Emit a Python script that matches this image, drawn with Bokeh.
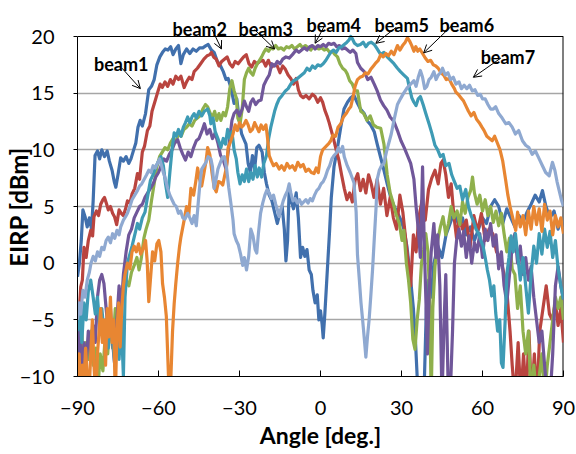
from bokeh.plotting import figure
from bokeh.models import Range1d, FixedTicker, Label, Arrow, OpenHead, Span
from bokeh.embed import file_html
from bokeh.resources import INLINE

# (angle [deg], EIRP [dBm]) pairs
beam1 = [(-90,-1.2),(-89.3,0),(-88.6,2),(-88,4.7),(-87.2,4.1),(-86.4,3.2),(-85.6,4),(-84.8,3),(-84.2,5.5),(-83.5,9.5),(-82.6,9.9),(-81.8,9.2),(-81,10),(-80,9.4),(-79,9.9),(-78.2,9),(-77.2,8.2),(-76.4,7.2),(-75.8,6.7),(-75,7.8),(-74,9.3),(-73,9),(-72,9.4),(-71,8.8),(-70.2,9.2),(-69.2,10),(-68.4,10.6),(-67.6,12),(-66.8,12.6),(-66,12.1),(-64.8,13.2),(-63.6,15.3),(-62.6,15.6),(-61.6,16.2),(-60.6,17.5),(-59.5,18.2),(-58.5,18.6),(-57.5,18.9),(-56.5,18.8),(-55.5,19.1),(-54.6,18.4),(-53.6,18.9),(-52.6,19.2),(-51.7,17.6),(-50.8,18.4),(-49.6,18.9),(-48.4,18.5),(-47.2,18.9),(-46,18.7),(-44.8,19),(-43.6,19),(-42.4,19.2),(-41.6,19.3),(-40.4,18.8),(-39.4,18.6),(-38.2,17.8),(-37,17.4),(-36,16.9),(-35,16.2),(-34.2,16.3),(-33.2,15.5),(-32,14.1),(-31,14.5),(-30,12.5),(-29.2,11.4),(-28.5,11),(-27.6,10.5),(-26.8,8.8),(-26,8),(-25.2,9.5),(-24.4,8.3),(-23.6,10.2),(-22.8,10.4),(-21.6,9.8),(-20.8,8),(-20,7),(-19,6),(-18,5.5),(-17,4.5),(-16,3.5),(-15.3,4.2),(-14.2,5),(-13.4,3),(-12.8,0.2),(-12.2,2),(-11.6,6.5),(-10.8,5.5),(-10,4.8),(-9,6.2),(-8.2,4),(-7.4,0.5),(-6.6,1.4),(-5.8,0.6),(-5,1.2),(-4.2,-0.6),(-3.4,-1),(-2.8,-2.4),(-2,-3.5),(-1.2,-2.8),(-0.6,-5),(0,-4.2),(0.6,-5.4),(1,-6.6),(1.6,-4.5),(2.2,-2),(2.8,0.5),(3.4,3),(4,5.8),(5,8.5),(6.3,10.2),(7.5,12),(8.7,13.6),(10,14.2),(11.2,14.6),(12.4,14.8),(13.5,14.2),(14.8,13.6),(16.2,13.2),(17.5,12.5),(18.6,12.2),(19.9,11.6),(21,10.5),(22.3,9.3),(23.5,8.2),(24.7,7),(26,5.8),(27.3,5),(28.6,4.4),(29.8,3.8),(30.9,3),(32,1.5),(33.4,-1.5),(34.4,-4),(35.2,-7),(36,-11),(37.2,-12),(38.4,-11),(39.2,-4),(40,-1.5),(41,-3),(42,0),(43.5,1.5),(45,0.5),(46.5,2.5),(48,3.5),(49.5,4.5),(51,3.5),(52.6,4),(54,2.5),(55.5,3.2),(57,2),(58.5,3),(60,4),(61.5,3.5),(63,5),(64.5,5.6),(66,5),(67.5,3.5),(69,4.8),(70.5,4),(72,3.2),(73.5,4.2),(75,3.6),(76.5,4.5),(78,5.2),(79.5,6),(81,5.4),(82.2,6.4),(83.5,5),(85,4),(86.5,4.6),(88,3),(89,3.8),(90,3.2)]

beam2 = [(-90,-7),(-89.4,-4.5),(-88.8,-2.1),(-88.2,-1.5),(-87.6,1.4),(-86.8,0.5),(-86,2),(-85.1,2.9),(-84.4,2.4),(-83.9,4.1),(-83,4.6),(-82.2,4.2),(-81.4,5.2),(-80.6,5.6),(-80,5.8),(-79.2,5.2),(-78.6,4.7),(-77.8,5),(-77,4.4),(-76.3,4.1),(-75.5,3.4),(-74.6,4.7),(-73.8,4.4),(-73,4.2),(-72.2,4.8),(-71.5,5.5),(-70.6,5.3),(-69.8,6.1),(-68.8,6.6),(-67.8,7.9),(-67,7.4),(-66,9.8),(-65.2,10.3),(-64.1,11.7),(-63.2,12.1),(-62.4,13.4),(-61.4,14.2),(-60.4,15),(-59.4,15.8),(-58.6,15.5),(-57.6,16),(-56.6,15.6),(-55.6,16.2),(-54.6,15.8),(-53.6,16.5),(-52.6,16.2),(-51.7,16.5),(-50.5,15.5),(-49.6,16),(-48.6,16.4),(-47.6,16.2),(-46.8,16.9),(-45.6,17.2),(-44.4,17.6),(-43.2,18),(-42,18.3),(-41,18.4),(-40.4,18.6),(-39.6,18.2),(-38.6,18),(-37.6,17.4),(-36.6,17.8),(-35.6,18),(-34.6,18.2),(-33.6,17.6),(-32.6,17.3),(-31.6,17.8),(-30.5,17.6),(-29.5,17.9),(-28.5,18.2),(-27.5,18.4),(-26.5,17.6),(-25.5,17.3),(-24.5,17.8),(-23.5,17.6),(-22.5,17.8),(-21.3,17.9),(-20.3,17.4),(-19.3,17.9),(-18.2,17.3),(-17,17.5),(-16,17.4),(-15,16.8),(-14,17.4),(-13,17.1),(-12,16.6),(-11,16.3),(-10,15.8),(-9,16.3),(-8.2,15.3),(-7.4,14.8),(-6.4,14.6),(-5.4,14.8),(-4.2,14.5),(-3,14.9),(-2,14.7),(-1,14.2),(0,14.6),(0.8,14.2),(1.6,13.5),(2.4,13),(3.2,12.4),(4,11.7),(4.8,11),(5.8,10),(6.8,9.1),(7.8,7.8),(8.8,6.6),(9.8,5.6),(10.8,6.2),(11.8,5.4),(12.8,7.3),(13.8,7.9),(14.8,6.4),(15.8,7.4),(16.8,6.2),(17.8,7.8),(18.8,7),(19.8,5.8),(21,7.4),(22.2,5.2),(23.4,6.6),(24.6,4.2),(25.8,5.8),(27,4),(28.2,3),(29.4,6),(30.5,4.5),(31.6,2),(32.5,0),(33.4,-2),(34.4,2.5),(35.4,1),(36.4,4),(37.6,5.5),(38.8,3.8),(40,6.5),(41.2,7.5),(42.4,8.2),(43.6,7),(44.6,8.8),(45.4,9.1),(46.4,7.8),(47.4,5.8),(48.4,7),(49.4,4.2),(50.4,2.2),(51.4,4),(52.6,3),(54,3.8),(55.4,1.4),(56.8,4.2),(58.2,2.8),(59.6,4.4),(61,2),(62.4,3),(63.8,2.6),(65.2,1),(66.6,0.5),(68,-1),(69.2,-3),(70.2,-6),(71,-9),(72,-12),(73.2,-7),(74.2,-12),(75.2,-8),(76.2,-12),(77.2,-6),(78.2,-12),(79.2,-8),(80.2,-12),(81.2,-6),(82.4,-4),(83.6,-2),(84.8,-4.5),(85.8,-5),(87,-3.5),(88,-5.5),(89,-4),(90,-7)]

beam3 = [(-90,-7),(-89.2,-9),(-88.4,-6),(-87.6,-9.5),(-86.8,-7),(-86,-8.5),(-85,-6),(-84.2,-9),(-83.2,-7.5),(-82.4,-11),(-81.6,-8),(-80.6,-9.5),(-79.6,-6),(-78.8,-8),(-78,-5),(-77,-7.5),(-76,-4),(-75,-6),(-74,-3),(-73,-2.5),(-72,-1.5),(-71,-2),(-70,-0.8),(-69,-0.2),(-68,0.5),(-67.2,-0.6),(-66.4,0.4),(-65.4,2.2),(-64.6,3),(-63.6,3.8),(-62.6,5.5),(-61.6,7),(-60.6,8.5),(-59.6,9.4),(-58.6,9.8),(-57.6,10.2),(-56.6,10),(-55.6,10.6),(-54.6,11),(-53.6,10.7),(-52.6,11.4),(-51.6,11.2),(-50.6,11.8),(-49.6,12),(-48.6,12.3),(-47.6,12.1),(-46.6,12.6),(-45.6,12.8),(-44.6,13),(-43.6,13.6),(-42.6,14),(-41.8,13.8),(-40.8,13.2),(-40,12.9),(-39.2,13.4),(-38.4,12.6),(-37.6,13.2),(-36.9,12.6),(-36,13.3),(-35.2,13),(-34.4,13.8),(-33.6,15.4),(-32.8,16.1),(-32,15.2),(-31.2,14.6),(-30.6,12.8),(-29.8,12.3),(-29,13.6),(-28.2,16.2),(-27.4,16.8),(-26.6,17.2),(-25.8,16.8),(-25,16.6),(-24.2,17.2),(-23.4,17.6),(-22.6,17.9),(-21.8,18.2),(-21,18.6),(-20.2,18.9),(-19.2,18.7),(-18.4,19),(-17.6,18.9),(-16.6,19.2),(-15.6,18.9),(-14.6,19),(-13.6,18.8),(-12.6,19.1),(-11.6,19),(-10.6,19.2),(-9.6,18.9),(-8.6,19.1),(-7.6,19.3),(-6.6,19),(-5.6,19.2),(-4.6,19),(-3.6,18.8),(-2.6,19.1),(-1.6,19),(-0.6,18.9),(0.4,19),(1.4,18.8),(2.4,18.9),(3.4,18.6),(4.4,18.7),(5.4,18.4),(6.3,18.2),(7.2,17.6),(8.2,17.2),(9.2,17),(9.9,16.7),(10.8,16.1),(11.8,15.8),(12.8,15.2),(13.7,15.2),(14.9,13.4),(16,13.2),(17.2,12.6),(18.4,13),(19.6,12.2),(20.8,12),(22.3,11.9),(23.5,10.5),(24.7,7.8),(25.8,6.2),(26.8,5.4),(28,4.3),(29.2,3.5),(30.2,2),(30.9,2.9),(31.8,0),(32.6,-1.5),(33.4,-3.5),(34.2,-6.7),(35,-7.6),(35.8,-5),(36.6,-3.2),(37.4,0),(38.2,1.2),(39,2.6),(39.8,1),(40.4,-3),(41,-12),(41.6,-4),(42.4,-0.3),(43.4,2),(44.4,3.2),(45.4,4.1),(46.4,2.5),(47.4,3.5),(48.4,5),(49.4,4),(50.6,4.6),(51.6,3.4),(52.6,5.4),(53.6,4.4),(54.6,5.8),(55.6,6.4),(56.3,7.6),(57,6.2),(58,5.2),(59,6),(60,4.6),(61,5.6),(62,4.2),(63,5),(64,3.6),(65,4.6),(66,3.3),(67,4.4),(68,2.6),(69,1),(70,2.2),(71,-0.5),(72,-1),(73,-4),(74,-2),(75,-6),(76,-8),(77,-6),(78,-12),(79,-9),(80,-12),(81,-10),(82,-8),(83,-12),(84,-9),(85,-7),(86,-5),(87,-3),(88,-4),(89,-3),(90,-5)]

beam4 = [(-90,-8),(-89.2,-6),(-88.4,-10),(-87.6,-7),(-86.8,-9),(-86,-6),(-85,-8),(-84.2,-5.5),(-83.4,-7),(-82.6,-3),(-81.8,-1.5),(-81,-1),(-80.2,-1.8),(-79.4,-4),(-78.6,-6),(-77.8,-4),(-77,-7),(-76.2,-9),(-75.4,-5),(-74.6,-2),(-73.8,-4),(-73,-1),(-72,1),(-71,2.5),(-70,3),(-69,4),(-68,4.5),(-67,5),(-66,5.2),(-65,5.8),(-64,6.2),(-63,6.6),(-62,7),(-61,7.6),(-60,8),(-59,8.6),(-58,9.2),(-57,9),(-56,9.6),(-55,10),(-54,10.6),(-52.9,10.9),(-52,10.2),(-51,9.6),(-50,9.1),(-49,9.8),(-48,9.4),(-47,10.2),(-46,10.8),(-45,11),(-44,11.6),(-43,12.3),(-42,11.4),(-41,11.8),(-40,11),(-39,11.5),(-38,10.6),(-37,9.5),(-36,9.1),(-35,8.3),(-34.4,9.4),(-33.6,11),(-32.8,12.6),(-32,13.2),(-31,13.5),(-30,13),(-29,13.6),(-28.2,14.3),(-27.4,13.8),(-26.6,13.4),(-25.8,14.2),(-25,14.5),(-24,14),(-23,14.3),(-22,14.4),(-21,15.7),(-20,16.2),(-19,16.6),(-18,17.6),(-17,17.4),(-16,17.8),(-15,17.6),(-14,18),(-12.8,18.2),(-11.6,18.1),(-10.4,18.4),(-9,18.8),(-8,18.6),(-7,18.8),(-6,19),(-5,18.8),(-4,19.1),(-3,19.2),(-2,18.9),(-1,19.2),(0,19.1),(1,19.3),(2,19.1),(3,19.4),(4,19.3),(5,19.4),(6,19.1),(7,19.2),(8,18.9),(9,19),(10,18.8),(11,18.6),(12,18.8),(13.1,18.5),(13.7,17.7),(14.9,17.2),(16.2,16.9),(17.5,16.2),(18.7,16.4),(19.9,15.8),(21,15.2),(22.2,14.4),(23.4,13.9),(24.6,13.5),(25.8,12.9),(27.2,12.5),(28.5,11.7),(29.8,10.8),(31,10.2),(32.2,9.5),(33.4,8.8),(34.6,7.4),(35.4,5),(36.2,3),(37,0.5),(37.8,8.5),(38.4,2),(39,-3),(39.6,-8),(40.2,-3),(41,1),(42,3.5),(42.7,0.5),(43.4,2.5),(44.2,-2),(45,-12),(45.8,-5),(46.4,-1),(47.2,-10),(48,-12),(48.9,-6),(49.6,0),(50.4,2),(51.3,3),(52.2,1.5),(53,2.8),(54,0.5),(55,2.4),(56,0),(57,1.8),(58,1),(59,2.6),(60,0.5),(61,3),(62,2),(63,3.5),(64,1.5),(65,2.5),(66,-0.5),(67,1),(68,-2),(69,-3.5),(70,-1),(71,1.5),(72,2.6),(73,0),(74,1.5),(75,-1),(76,0.5),(77,-1.5),(78,-0.3),(79,-3),(80,-5),(81,-7),(82,-6),(83,-9),(84,-12),(85,-12),(86,-8),(87,-2),(88,-0.3),(89,-2),(90,-3.2)]

beam5 = [(-90,-6),(-89.2,-4),(-88.4,-7),(-87.6,-3.5),(-86.8,-5),(-86,-2.5),(-85.1,-1.5),(-84.2,-3),(-83.4,-4.5),(-82.6,-3),(-81.8,-5.5),(-81,-4),(-80.2,-6),(-79.4,-5),(-78.6,-7.5),(-77.8,-5.5),(-77,-6.5),(-76.2,-9),(-75.4,-6),(-74.6,-8.5),(-73.8,-5),(-73,-10),(-72.4,-3),(-71.5,0),(-70.6,0.8),(-69.8,1.5),(-68.8,2.5),(-67.8,3.5),(-67,3),(-66,4),(-65,4.5),(-64.1,5.8),(-63,7.3),(-62,7.8),(-61,8.5),(-60,9),(-59.1,9.4),(-58.2,8.6),(-57.4,7),(-56.6,5.8),(-55.8,8),(-55,10),(-54.2,11.5),(-53.4,11.2),(-52.6,11.8),(-51.7,11.2),(-50.8,12),(-50,12.4),(-49.2,12.9),(-48.4,12.4),(-47.6,12.9),(-46.8,13.2),(-46,12.8),(-45,13.4),(-44,13),(-43,13.4),(-41.8,13.6),(-41,13),(-40.6,12.3),(-39.8,12.8),(-39,11.6),(-38,11),(-36.9,10.2),(-36,11),(-35.2,10.5),(-34.4,11.8),(-33.6,11),(-32.8,11.6),(-32,10),(-31.2,9.2),(-30.6,8),(-29.8,7),(-29,7.8),(-28.2,7.2),(-27.4,8.3),(-26.6,7.2),(-25.8,8),(-25,7.4),(-24.2,8.6),(-23.4,7.6),(-22.7,8.4),(-21.8,7.6),(-21,8.8),(-20,9.5),(-19.2,11),(-18.4,12),(-17.8,12.6),(-17,13.4),(-16.2,14),(-15.3,14.5),(-14.2,14.8),(-13,15.2),(-12,15.4),(-11,15.8),(-10,16.1),(-9,16.2),(-8,16.4),(-7,16.6),(-6,16.8),(-5,17.2),(-4,17),(-3,17.4),(-2,17.2),(-1,17.5),(0,17.4),(1,17.6),(2,17.9),(3,18.3),(3.8,18.6),(4.8,18.8),(5.8,18.6),(6.8,19),(7.8,19.1),(8.8,19.3),(9.8,19.5),(10.6,19.7),(11.2,20),(11.8,19.8),(12.6,19.4),(13.7,19.2),(14.8,19.3),(15.8,19.5),(16.8,19.1),(17.8,19.4),(18.8,19.5),(19.9,19.3),(21,18.9),(22.3,18.4),(23.5,18.6),(24.7,18.2),(26,17.9),(27.2,17.6),(28.5,17.2),(29.6,16.9),(30.9,16.6),(32.2,16.3),(33,15.4),(33.8,14.6),(34.6,14.2),(35.4,13.9),(36.2,14.5),(37,14.7),(38,14),(39,13.2),(40.2,12.3),(41.2,11.5),(42.4,10.4),(43.4,10),(44.4,9.4),(45.4,9.6),(46.4,8.6),(47.6,8.8),(48.6,7.8),(49.6,7.2),(50.6,6.6),(51.6,6.8),(52.6,5.6),(53.8,6.5),(54.8,5),(55.8,4.2),(56.8,3.6),(57.6,3),(58.6,2.6),(59.4,2),(60.2,1.5),(61,0.5),(61.8,-0.6),(62.6,-1.5),(63.4,-2.9),(64.2,-2),(64.9,-4.4),(65.6,-6),(66.4,-5),(67,-8.8),(67.6,-9.2),(68.4,-5),(69,-1),(69.8,0.5),(70.6,2.4),(71.4,1),(72.2,2.6),(73,0.8),(74,-1.5),(75,0.5),(76,-2),(77,-4.4),(78,-1),(79,1.5),(80,0),(81,2.6),(82,0.8),(83,3),(84,1.4),(85,2.8),(86,0.5),(87,2),(88,-0.5),(89,-2),(90,-3.2)]

beam6 = [(-90,-10),(-89.4,-8),(-88.8,-12),(-88.2,-9),(-87.6,-10.5),(-87,-7.5),(-86.4,-10),(-85.8,-12),(-85.1,-8),(-84.5,-5),(-83.9,-9),(-83.2,-12),(-82.6,-8),(-82,-6),(-81.4,-4),(-80.8,-7),(-80.2,-5),(-79.6,-9),(-79,-4),(-78.4,-6.5),(-77.8,-3),(-77.2,-7),(-76.6,-5),(-76,-12),(-75.4,-6),(-74.8,-3.5),(-74.2,-7.4),(-73.6,-4),(-73,-2),(-72.4,-1),(-71.5,0),(-70.6,-0.5),(-69.8,1),(-69,1.5),(-68.2,1),(-67.4,1.7),(-66.6,0.8),(-65.8,1.2),(-64.8,2),(-64.2,0.2),(-63.6,-3.4),(-63,-1.5),(-62.2,1),(-61.4,0.2),(-60.6,1.7),(-59.9,2),(-59.1,1),(-58.5,-1.8),(-57.8,-3),(-57.1,-4.7),(-56.6,-8),(-56,-12),(-55.4,-10),(-54.8,-6),(-54.2,-3.6),(-53.6,-1.8),(-52.9,0),(-52.2,1.5),(-51.7,2.3),(-50.5,3.8),(-49.6,5),(-48.8,4.2),(-48,6.6),(-47,6),(-46.2,7.2),(-45.5,8.4),(-44.8,7.4),(-44,6.8),(-43.2,7.9),(-42.4,9),(-41.8,10.2),(-41,9.6),(-40.2,8),(-39.4,6.7),(-38.6,6.3),(-37.8,7.2),(-36.9,7.1),(-36.2,6.9),(-35.6,7.6),(-34.8,8.5),(-34.2,10.2),(-33.2,10.8),(-32.4,11.4),(-31.6,12.2),(-30.8,11.7),(-30,12.4),(-29.2,12),(-28.4,12.2),(-27.6,12.6),(-26.8,12.2),(-26,11.6),(-25.2,11.8),(-24.4,12.4),(-23.6,12),(-22.8,11.6),(-22,12.2),(-21.2,11.8),(-20.2,12.2),(-19.6,11),(-19,9.5),(-18.2,9),(-17.4,8.6),(-16.4,8.8),(-15.3,8.3),(-14.4,8.6),(-13.4,8.2),(-12.4,8.8),(-11.4,8.4),(-10.4,8.6),(-9.4,8.2),(-8.4,8.9),(-7.4,8.5),(-6.4,8.7),(-5.4,8.1),(-4.4,8.3),(-3.4,8),(-2.4,7.9),(-1.6,8.4),(-0.8,8),(0,9.4),(0.8,10),(1.6,10.2),(2.4,10.4),(3.2,10.6),(3.8,10.8),(4.6,11.3),(5.6,11.2),(6.5,12),(7.5,12.3),(8.5,12.9),(9.5,13.2),(10.5,13.6),(11.2,13.8),(12,14.6),(12.8,15.6),(13.7,16.2),(14.6,16.4),(15.6,16.5),(16.6,16.8),(17.6,16.7),(18.6,17.1),(19.6,17.4),(20.6,17.7),(21.4,17.9),(22.3,18.4),(23.2,18.2),(24.2,18.5),(25.2,18.3),(26.2,18.7),(27.2,18.4),(28.5,19.2),(29.4,18.8),(30.4,19.2),(31.4,19.5),(32.2,19.9),(33,19.6),(33.8,19.2),(34.6,18.7),(35.3,19.1),(36,18.7),(36.8,18.9),(37.8,18.5),(38.8,18.1),(39.8,17.8),(40.8,17.9),(41.8,17.5),(42.7,17.4),(43.6,17.2),(44.6,16.8),(45.6,16.6),(46.6,16.2),(47.6,16.3),(48.6,15.8),(49.6,15.4),(50.1,15.1),(51,14.9),(52,14.6),(53,14.3),(53.8,13.9),(54.8,13.4),(55.8,13),(56.8,13.3),(57.8,12.7),(58.8,12.4),(59.8,12),(60.6,11.7),(61.6,11.2),(62.6,11),(63.6,10.8),(64.5,11.2),(65.5,10.6),(66.5,10),(67.5,9),(68.6,7.3),(69.4,6),(70.2,5),(71.2,4),(72.3,2.9),(73,4.5),(74,3.2),(75,4.2),(76,2.5),(77,4.6),(78,3),(79,5),(80,3.4),(81,4.8),(82,2.8),(83,5.2),(84,3.8),(85,4.6),(86,2.5),(87,4.2),(88,3.2),(89,4),(90,2.6)]

beam7 = [(-90,-5),(-89.4,-3.5),(-88.8,-4.5),(-88,-2.4),(-87.2,-3),(-86.4,-1.5),(-85.6,-0.8),(-85,0),(-84.2,0.6),(-83.4,0.2),(-82.6,1),(-81.8,0.6),(-81,1.4),(-80.2,1.2),(-79.4,2),(-78.6,2.3),(-77.8,1.8),(-77,2.6),(-76.2,2.2),(-75.4,2.9),(-74.6,2.5),(-74,3.2),(-73,3.8),(-72.2,4.1),(-71.5,4.4),(-70.6,5),(-69.8,5.6),(-68.8,6),(-67.8,6.4),(-67,6.8),(-66.2,7),(-65.3,7.4),(-64.4,7.8),(-63.6,8.2),(-62.8,8),(-62,8.6),(-61.2,8.4),(-60.4,8.8),(-59.6,9.2),(-59.1,8.8),(-58.2,8),(-57.4,7.4),(-56.6,6.6),(-55.8,6),(-55,5.6),(-54.2,5.2),(-53.4,5),(-52.6,4.4),(-51.8,4.6),(-51,4),(-50.2,3.9),(-49.2,4.4),(-48.4,4),(-47.6,3.5),(-46.8,4.2),(-46,3.3),(-45.4,5),(-44.6,7.2),(-44,8.3),(-43.2,8.6),(-42.4,8.9),(-41.6,9.4),(-40.6,9.2),(-40,8.5),(-39.4,6.6),(-38.6,7.5),(-38,8.3),(-37.2,8.8),(-36.4,9.3),(-35.6,9.4),(-34.8,8.4),(-34,6.7),(-33.2,5.3),(-32.4,3.8),(-32,2.6),(-31.2,2),(-30.4,1.6),(-29.6,0.8),(-28.8,-0.2),(-28.2,0.5),(-27.4,-0.6),(-26.6,0.6),(-25.8,3),(-25,2.4),(-24.2,1.2),(-23.6,0.9),(-23,2.6),(-22.2,4.4),(-21.4,5.3),(-20.6,6),(-19.8,6.5),(-19,6.2),(-18.2,5.7),(-17.4,6),(-16.6,5.2),(-15.8,4.6),(-15.3,4.1),(-14.6,4.8),(-13.8,5.5),(-13,6),(-12.2,6.4),(-11.6,7),(-11,6.2),(-10.2,5.5),(-9.4,5.7),(-8.6,5.3),(-7.8,5.6),(-7,5.2),(-6.2,5.4),(-5.4,5.6),(-4.6,5.3),(-3.8,5.7),(-3,5.5),(-2.2,6),(-1.4,6.4),(-0.6,6.6),(0.2,7),(1,7.2),(1.8,7.6),(2.6,8.2),(3.4,8.6),(4.2,9.2),(5,9.5),(5.8,9.7),(6.6,10.2),(7.4,9.8),(8.2,10.3),(8.8,9.4),(9.9,8.6),(11,8),(12.4,7.1),(13.2,4.5),(13.7,0.7),(14.4,-1.5),(15,-3.5),(15.6,-5),(16.2,-6.6),(16.8,-8.3),(17.4,-6.5),(18,-5),(18.6,-3),(19.3,-0.5),(20,2.5),(20.6,5),(21,7.4),(21.8,8.2),(22.6,8.6),(23.5,8.8),(24.4,9.8),(25.3,10.6),(26.2,11.4),(27.2,12.6),(28.5,14),(29.6,14.5),(30.8,15),(32.2,15.5),(33.4,15.8),(34.6,16.1),(35.4,15.6),(36.2,16.4),(37,17),(37.8,16.4),(38.6,15.4),(39.4,15.6),(40.2,16.2),(41,16.4),(42,16.9),(42.8,16.2),(43.6,16.6),(44.4,16.8),(45.2,17.2),(46.2,16.6),(47.2,16.8),(48.2,16.2),(49.2,16.4),(50.2,15.8),(51.3,16),(52.2,15.4),(53.2,15.7),(54.2,15.4),(55.2,15.7),(56.2,15.2),(57.2,15.3),(58.2,14.8),(59.2,14.9),(60,14.5),(61,14.5),(62,14),(63,13.6),(64,13.6),(64.9,13.8),(66,13.2),(67,12.9),(68.6,12.3),(69.8,12.4),(71,12),(72.2,11.4),(73.4,11.7),(74.8,10.8),(76,10.4),(77.2,10.2),(78.4,9.6),(79.6,9.9),(81,9.2),(82.2,8.6),(83.4,8),(84.7,7.7),(85.9,8.9),(86.8,8.2),(87.6,7.2),(88.4,6.4),(89.2,5.6),(90,5)]

series = [beam1, beam2, beam3, beam4, beam5, beam6, beam7]
names = ["beam1", "beam2", "beam3", "beam4", "beam5", "beam6", "beam7"]
colors = ["#4170AD", "#B9443F", "#8FB04C", "#70579A", "#3E9BB5", "#E88632", "#8FA9D1"]

x_ticks = [-90, -60, -30, 0, 30, 60, 90]
y_ticks = [-10, -5, 0, 5, 10, 15, 20]
grid_ticks = [-5, 0, 5, 10, 15]

# label text positions (angle, EIRP) and arrow start/end
label_pos = [(-73.8, 17.6), (-44.7, 20.7), (-20.3, 20.7), (4.9, 21.0), (30.1, 21.0), (54.2, 21.0), (69.4, 18.2)]
arrow_pos = [(-73.5, 17.2, -66.7, 15.4), (-40.1, 20.6, -36.7, 18.9), (-24.4, 20.6, -17.0, 18.9),
             (1.4, 20.9, -2.0, 19.4), (28.0, 20.8, 20.5, 19.4), (48.4, 20.9, 38.2, 18.55),
             (66.8, 18.1, 56.6, 16.4)]

FONT = "Lato"
NBSP = "\u00a0"

p = figure(width=576, height=454, x_range=Range1d(-90, 90), y_range=Range1d(-10, 23),
           output_backend="svg", toolbar_location=None,
           min_border_left=76, min_border_right=13, min_border_top=2, min_border_bottom=78)
p.background_fill_color = "white"
p.border_fill_color = "white"
p.outline_line_color = None

p.xgrid.visible = False
p.ygrid.grid_line_color = "#A6A6A6"
p.ygrid.grid_line_width = 1.4
p.ygrid.ticker = FixedTicker(ticks=grid_ticks)

xa = p.xaxis[0]
ya = p.yaxis[0]
xa.ticker = FixedTicker(ticks=x_ticks)
ya.ticker = FixedTicker(ticks=y_ticks)
ya.bounds = (y_ticks[0], y_ticks[-1])
for ax in (xa, ya):
    ax.axis_line_color = "black"
    ax.major_tick_line_color = "black"
    ax.minor_tick_line_color = None
    ax.major_label_text_font = FONT
    ax.major_label_text_font_size = "20px"
    ax.major_label_text_color = "black"
    ax.axis_label_text_font = FONT
    ax.axis_label_text_font_style = "bold"
    ax.axis_label_text_color = "black"
xa.axis_label_text_font_size = "23px"
ya.axis_label_text_font_size = "24px"
xa.major_tick_in = 6
xa.major_tick_out = 0
xa.major_label_standoff = 24
xa.axis_label = "Angle [deg.]"
xa.axis_label_standoff = 3
ya.major_tick_in = 0
ya.major_tick_out = 4
ya.major_label_standoff = 19
# trailing no-break spaces move the centred label down to the middle of the -10..20 box
ya.axis_label = "EIRP [dBm]" + NBSP * 6
ya.axis_label_standoff = -16

# right and top borders of the plot box
p.segment(x0=[x_ticks[-1]], y0=[y_ticks[0]], x1=[x_ticks[-1]], y1=[y_ticks[-1]],
          line_color="black", line_width=2)
p.add_layout(Span(location=y_ticks[-1], dimension="width", line_color="black", line_width=1))

for data, c in zip(series, colors):
    xs = [a for a, _ in data]
    ys = [v for _, v in data]
    p.line(xs, ys, line_color=c, line_width=3.2, line_join="round")

for name, (lx, ly) in zip(names, label_pos):
    p.add_layout(Label(x=lx, y=ly, text=name, text_font=FONT, text_font_size="18px",
                       text_font_style="bold", text_align="center", text_baseline="alphabetic",
                       text_color="black"))
for (xs0, ys0, xe, ye) in arrow_pos:
    p.add_layout(Arrow(x_start=xs0, y_start=ys0, x_end=xe, y_end=ye, line_width=1,
                       line_color="black",
                       end=OpenHead(size=8, line_width=1, line_color="black")))

open("out.html", "w").write(file_html(p, INLINE))
